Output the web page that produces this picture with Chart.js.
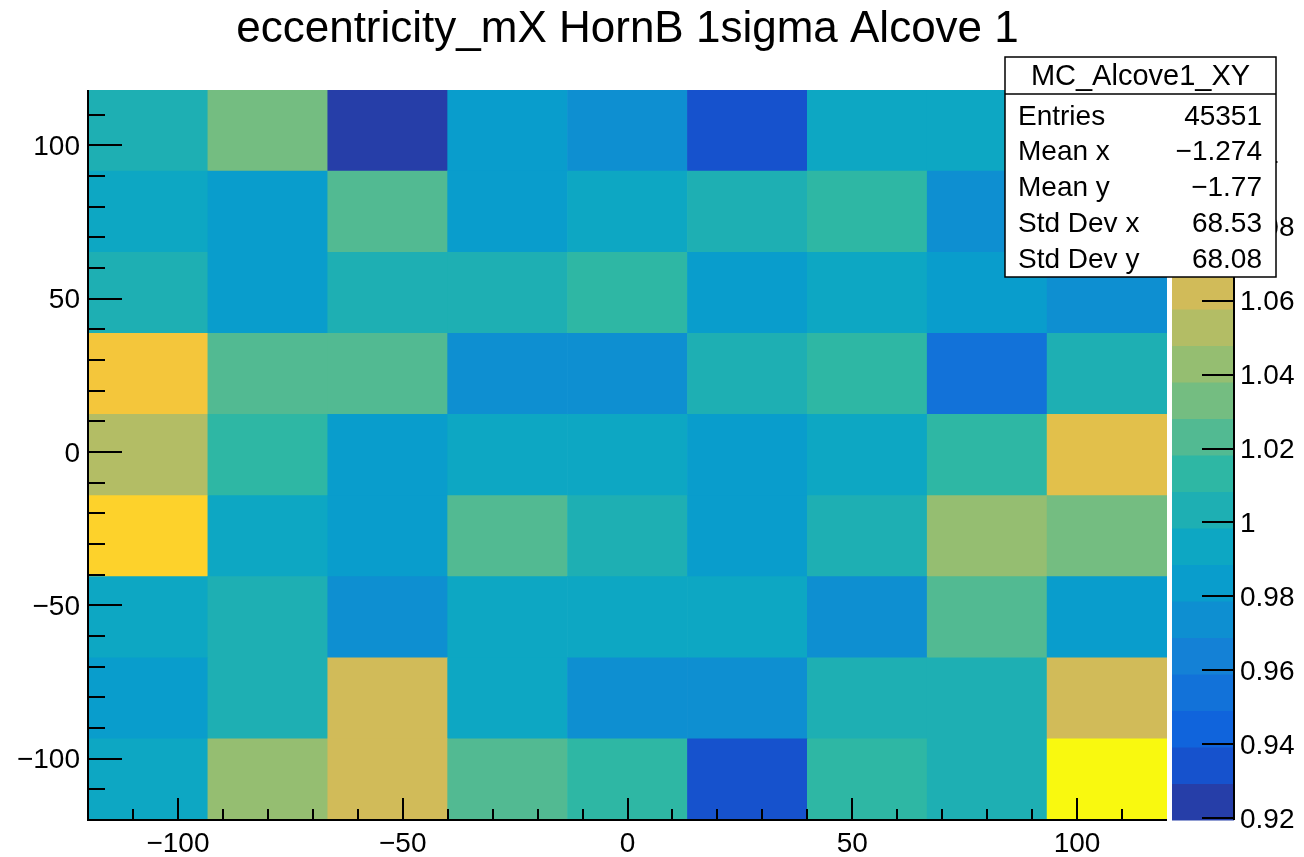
<!DOCTYPE html>
<html>
<head>
<meta charset="utf-8">
<title>eccentricity_mX HornB 1sigma Alcove 1</title>
<script src="https://cdn.jsdelivr.net/npm/chart.js@4.4.1/dist/chart.umd.min.js"></script>
<style>
  html, body { margin: 0; padding: 0; background: #fff; }
  canvas { display: block; }
</style>
</head>
<body>
<canvas id="histChart" width="1304" height="857"></canvas>
<script>
  // binning of MC_Alcove1_XY
  const xMin = -120, xMax = 120, nBinsX = 9;
  const yMin = -120, yMax = 118, nBinsY = 9;
  const nContours = 20;

  const xTickLabels = [-100, -50, 0, 50, 100];
  const yTickLabels = [-100, -50, 0, 50, 100];
  const zTickLabels = [0.92, 0.94, 0.96, 0.98, 1, 1.02, 1.04, 1.06, 1.08, 1.1];

  // bin contents, one array per y bin, bottom row first (x from left to right)
  const row1 = [0.994, 1.042, 1.063, 1.023, 1.013, 0.934, 1.013, 1.004, 1.117];
  const row2 = [0.984, 1.004, 1.063, 0.994, 0.974, 0.974, 1.004, 1.004, 1.063];
  const row3 = [0.994, 1.004, 0.974, 0.994, 0.994, 0.994, 0.974, 1.023, 0.984];
  const row4 = [1.092, 0.994, 0.984, 1.023, 1.004, 0.984, 1.004, 1.042, 1.033];
  const row5 = [1.053, 1.013, 0.984, 0.994, 0.994, 0.984, 0.994, 1.013, 1.073];
  const row6 = [1.083, 1.023, 1.023, 0.974, 0.974, 1.004, 1.013, 0.954, 1.004];
  const row7 = [1.004, 0.984, 1.004, 1.004, 1.013, 0.984, 0.994, 0.984, 0.974];
  const row8 = [0.994, 0.984, 1.023, 0.984, 0.994, 1.004, 1.013, 0.974, 0.994];
  const row9 = [1.004, 1.033, 0.9195, 0.984, 0.974, 0.934, 0.994, 0.994, 1.004];
  const rows = [row1, row2, row3, row4, row5, row6, row7, row8, row9];

  const histTitle = "eccentricity_mX HornB 1sigma Alcove 1";
  const statsTitle = "MC_Alcove1_XY";
  const statsNames = ["Entries", "Mean x", "Mean y", "Std Dev x", "Std Dev y"];
  const statsValues = ["45351", "\u22121.274", "\u22121.77", "68.53", "68.08"];

  const fontFamily = '"Liberation Sans", Arial, Helvetica, sans-serif';

  // kBird palette, 255 colours like ROOT
  const stops = [0.0, 0.125, 0.25, 0.375, 0.5, 0.625, 0.75, 0.875, 1.0];
  const red   = [0.2082, 0.0592, 0.0780, 0.0232, 0.1802, 0.5301, 0.8186, 0.9956, 0.9764];
  const green = [0.1664, 0.3599, 0.5041, 0.6419, 0.7178, 0.7492, 0.7328, 0.7862, 0.9832];
  const blue  = [0.5293, 0.8684, 0.8385, 0.7914, 0.6425, 0.4662, 0.3499, 0.1968, 0.0539];
  const palette = [];
  for (let g = 1; g < stops.length; g++) {
    const n = Math.floor(255 * stops[g]) - Math.floor(255 * stops[g - 1]);
    for (let c = 0; c < n; c++) {
      const t = c / n;
      const r = red[g - 1] + t * (red[g] - red[g - 1]);
      const gg = green[g - 1] + t * (green[g] - green[g - 1]);
      const b = blue[g - 1] + t * (blue[g] - blue[g - 1]);
      palette.push("rgb(" + Math.round(r * 255) + "," + Math.round(gg * 255) + "," + Math.round(b * 255) + ")");
    }
  }

  const allValues = rows.flat();
  const zMin = Math.min(...allValues);
  const zMax = Math.max(...allValues);

  function contourColor(i) {
    let idx = Math.floor((i + 0.99) * palette.length / nContours);
    if (idx > palette.length - 1) idx = palette.length - 1;
    return palette[idx];
  }

  function cellColor(v) {
    let i = Math.floor(0.01 + (v - zMin) * nContours / (zMax - zMin));
    if (i > nContours - 1) i = nContours - 1;
    return contourColor(i);
  }

  function rootLabel(v) {
    return v < 0 ? "\u2212" + Math.abs(v) : String(v);
  }

  // fixed axis sizes, no extra label padding around the frame
  function fixSize(size, horizontal) {
    return s => {
      if (horizontal) s.height = size; else s.width = size;
      s.paddingTop = 0;
      s.paddingBottom = 0;
      s.paddingLeft = 0;
      s.paddingRight = 0;
    };
  }

  const binW = (xMax - xMin) / nBinsX;
  const binH = (yMax - yMin) / nBinsY;

  const datasets = rows.map((vals, r) => ({
    label: "row " + (r + 1),
    data: vals.map((v, c) => ({
      x: xMin + (c + 0.5) * binW,
      y: [yMin + r * binH, yMin + (r + 1) * binH],
    })),
    backgroundColor: vals.map(cellColor),
    borderWidth: 0,
    grouped: false,
    categoryPercentage: 1,
    barPercentage: 1,
  }));

  // title, ticks, axis lines, palette and stats box in ROOT style
  const rootDecor = {
    id: "rootDecor",
    afterDatasetsDraw(chart) {
      const { ctx, chartArea: a } = chart;
      const x = chart.scales.x, y = chart.scales.y;
      ctx.save();
      ctx.strokeStyle = "#000";
      ctx.lineWidth = 2;
      ctx.beginPath();
      for (let v = xMin + 10; v < xMax; v += 10) {
        const px = Math.round(x.getPixelForValue(v));
        const len = v % 50 === 0 ? 22 : 11;
        ctx.moveTo(px, a.bottom);
        ctx.lineTo(px, a.bottom - len);
      }
      for (let v = yMin + 10; v < yMax; v += 10) {
        const py = Math.round(y.getPixelForValue(v));
        const len = v % 50 === 0 ? 34 : 17;
        ctx.moveTo(a.left, py);
        ctx.lineTo(a.left + len, py);
      }
      ctx.moveTo(a.left, a.top);
      ctx.lineTo(a.left, a.bottom);
      ctx.lineTo(a.right, a.bottom);
      ctx.stroke();
      ctx.restore();
    },
    afterDraw(chart) {
      const { ctx, chartArea: a } = chart;
      const z = chart.scales.zAxis;
      ctx.save();

      // histogram title, centred over the frame
      ctx.fillStyle = "#000";
      ctx.textAlign = "center";
      ctx.textBaseline = "middle";
      ctx.font = "44px " + fontFamily;
      ctx.fillText(histTitle, (a.left + a.right) / 2, 30);

      // colour palette
      const cx0 = a.right + 5, cx1 = a.right + 67;
      for (let i = 0; i < nContours; i++) {
        const lo = zMin + i * (zMax - zMin) / nContours;
        const hi = zMin + (i + 1) * (zMax - zMin) / nContours;
        const top = z.getPixelForValue(hi), bot = z.getPixelForValue(lo);
        ctx.fillStyle = contourColor(i);
        ctx.fillRect(cx0, top, cx1 - cx0, bot - top + 0.5);
      }
      ctx.strokeStyle = "#000";
      ctx.lineWidth = 2;
      ctx.beginPath();
      ctx.moveTo(cx1, a.top);
      ctx.lineTo(cx1, a.bottom);
      zTickLabels.forEach(v => {
        const py = Math.round(z.getPixelForValue(v));
        ctx.moveTo(cx1 - 32, py);
        ctx.lineTo(cx1, py);
      });
      ctx.stroke();

      // stats box
      const bx0 = 1005, by0 = 57, bx1 = 1276, by1 = 277;
      ctx.fillStyle = "#fff";
      ctx.fillRect(bx0, by0, bx1 - bx0, by1 - by0);
      ctx.lineWidth = 1.5;
      ctx.strokeRect(bx0, by0, bx1 - bx0, by1 - by0);
      ctx.beginPath();
      ctx.moveTo(bx0, 94);
      ctx.lineTo(bx1, 94);
      ctx.stroke();

      ctx.fillStyle = "#000";
      ctx.textBaseline = "middle";
      ctx.font = "29px " + fontFamily;
      ctx.textAlign = "center";
      ctx.fillText(statsTitle, (bx0 + bx1) / 2, 77);
      ctx.font = "28px " + fontFamily;
      statsNames.forEach((name, i) => {
        const ty = 117 + i * 35.7;
        ctx.textAlign = "left";
        ctx.fillText(name, bx0 + 13, ty);
        ctx.textAlign = "right";
        ctx.fillText(statsValues[i], bx1 - 14, ty);
      });
      ctx.restore();
    },
  };

  const tickFont = { family: fontFamily, size: 28 };

  new Chart(document.getElementById("histChart"), {
    type: "bar",
    data: { datasets },
    options: {
      responsive: false,
      animation: false,
      events: [],
      layout: { padding: { top: 90, left: 0, right: 0, bottom: 0 } },
      plugins: {
        legend: { display: false },
        tooltip: { enabled: false },
        title: { display: false },
      },
      scales: {
        x: {
          type: "linear",
          min: xMin,
          max: xMax,
          offset: false,
          grid: { display: false, drawTicks: false },
          border: { display: false },
          ticks: {
            color: "#000",
            font: tickFont,
            padding: 7,
            autoSkip: false,
            maxRotation: 0,
            callback: v => rootLabel(v),
          },
          afterBuildTicks: s => { s.ticks = xTickLabels.map(v => ({ value: v })); },
          afterFit: fixSize(37, true),
        },
        y: {
          type: "linear",
          min: yMin,
          max: yMax,
          grid: { display: false, drawTicks: false },
          border: { display: false },
          ticks: {
            color: "#000",
            font: tickFont,
            padding: 8,
            labelOffset: 2,
            autoSkip: false,
            callback: v => rootLabel(v),
          },
          afterBuildTicks: s => { s.ticks = yTickLabels.map(v => ({ value: v })); },
          afterFit: fixSize(88, false),
        },
        zAxis: {
          type: "linear",
          axis: "y",
          position: "right",
          min: zMin,
          max: zMax,
          grid: { display: false, drawTicks: false },
          border: { display: false },
          ticks: {
            color: "#000",
            font: tickFont,
            padding: 73,
            labelOffset: 2,
            autoSkip: false,
            callback: v => String(Number(v.toFixed(2))),
          },
          afterBuildTicks: s => { s.ticks = zTickLabels.map(v => ({ value: v })); },
          afterFit: fixSize(137, false),
        },
      },
    },
    plugins: [rootDecor],
  });
</script>
</body>
</html>
